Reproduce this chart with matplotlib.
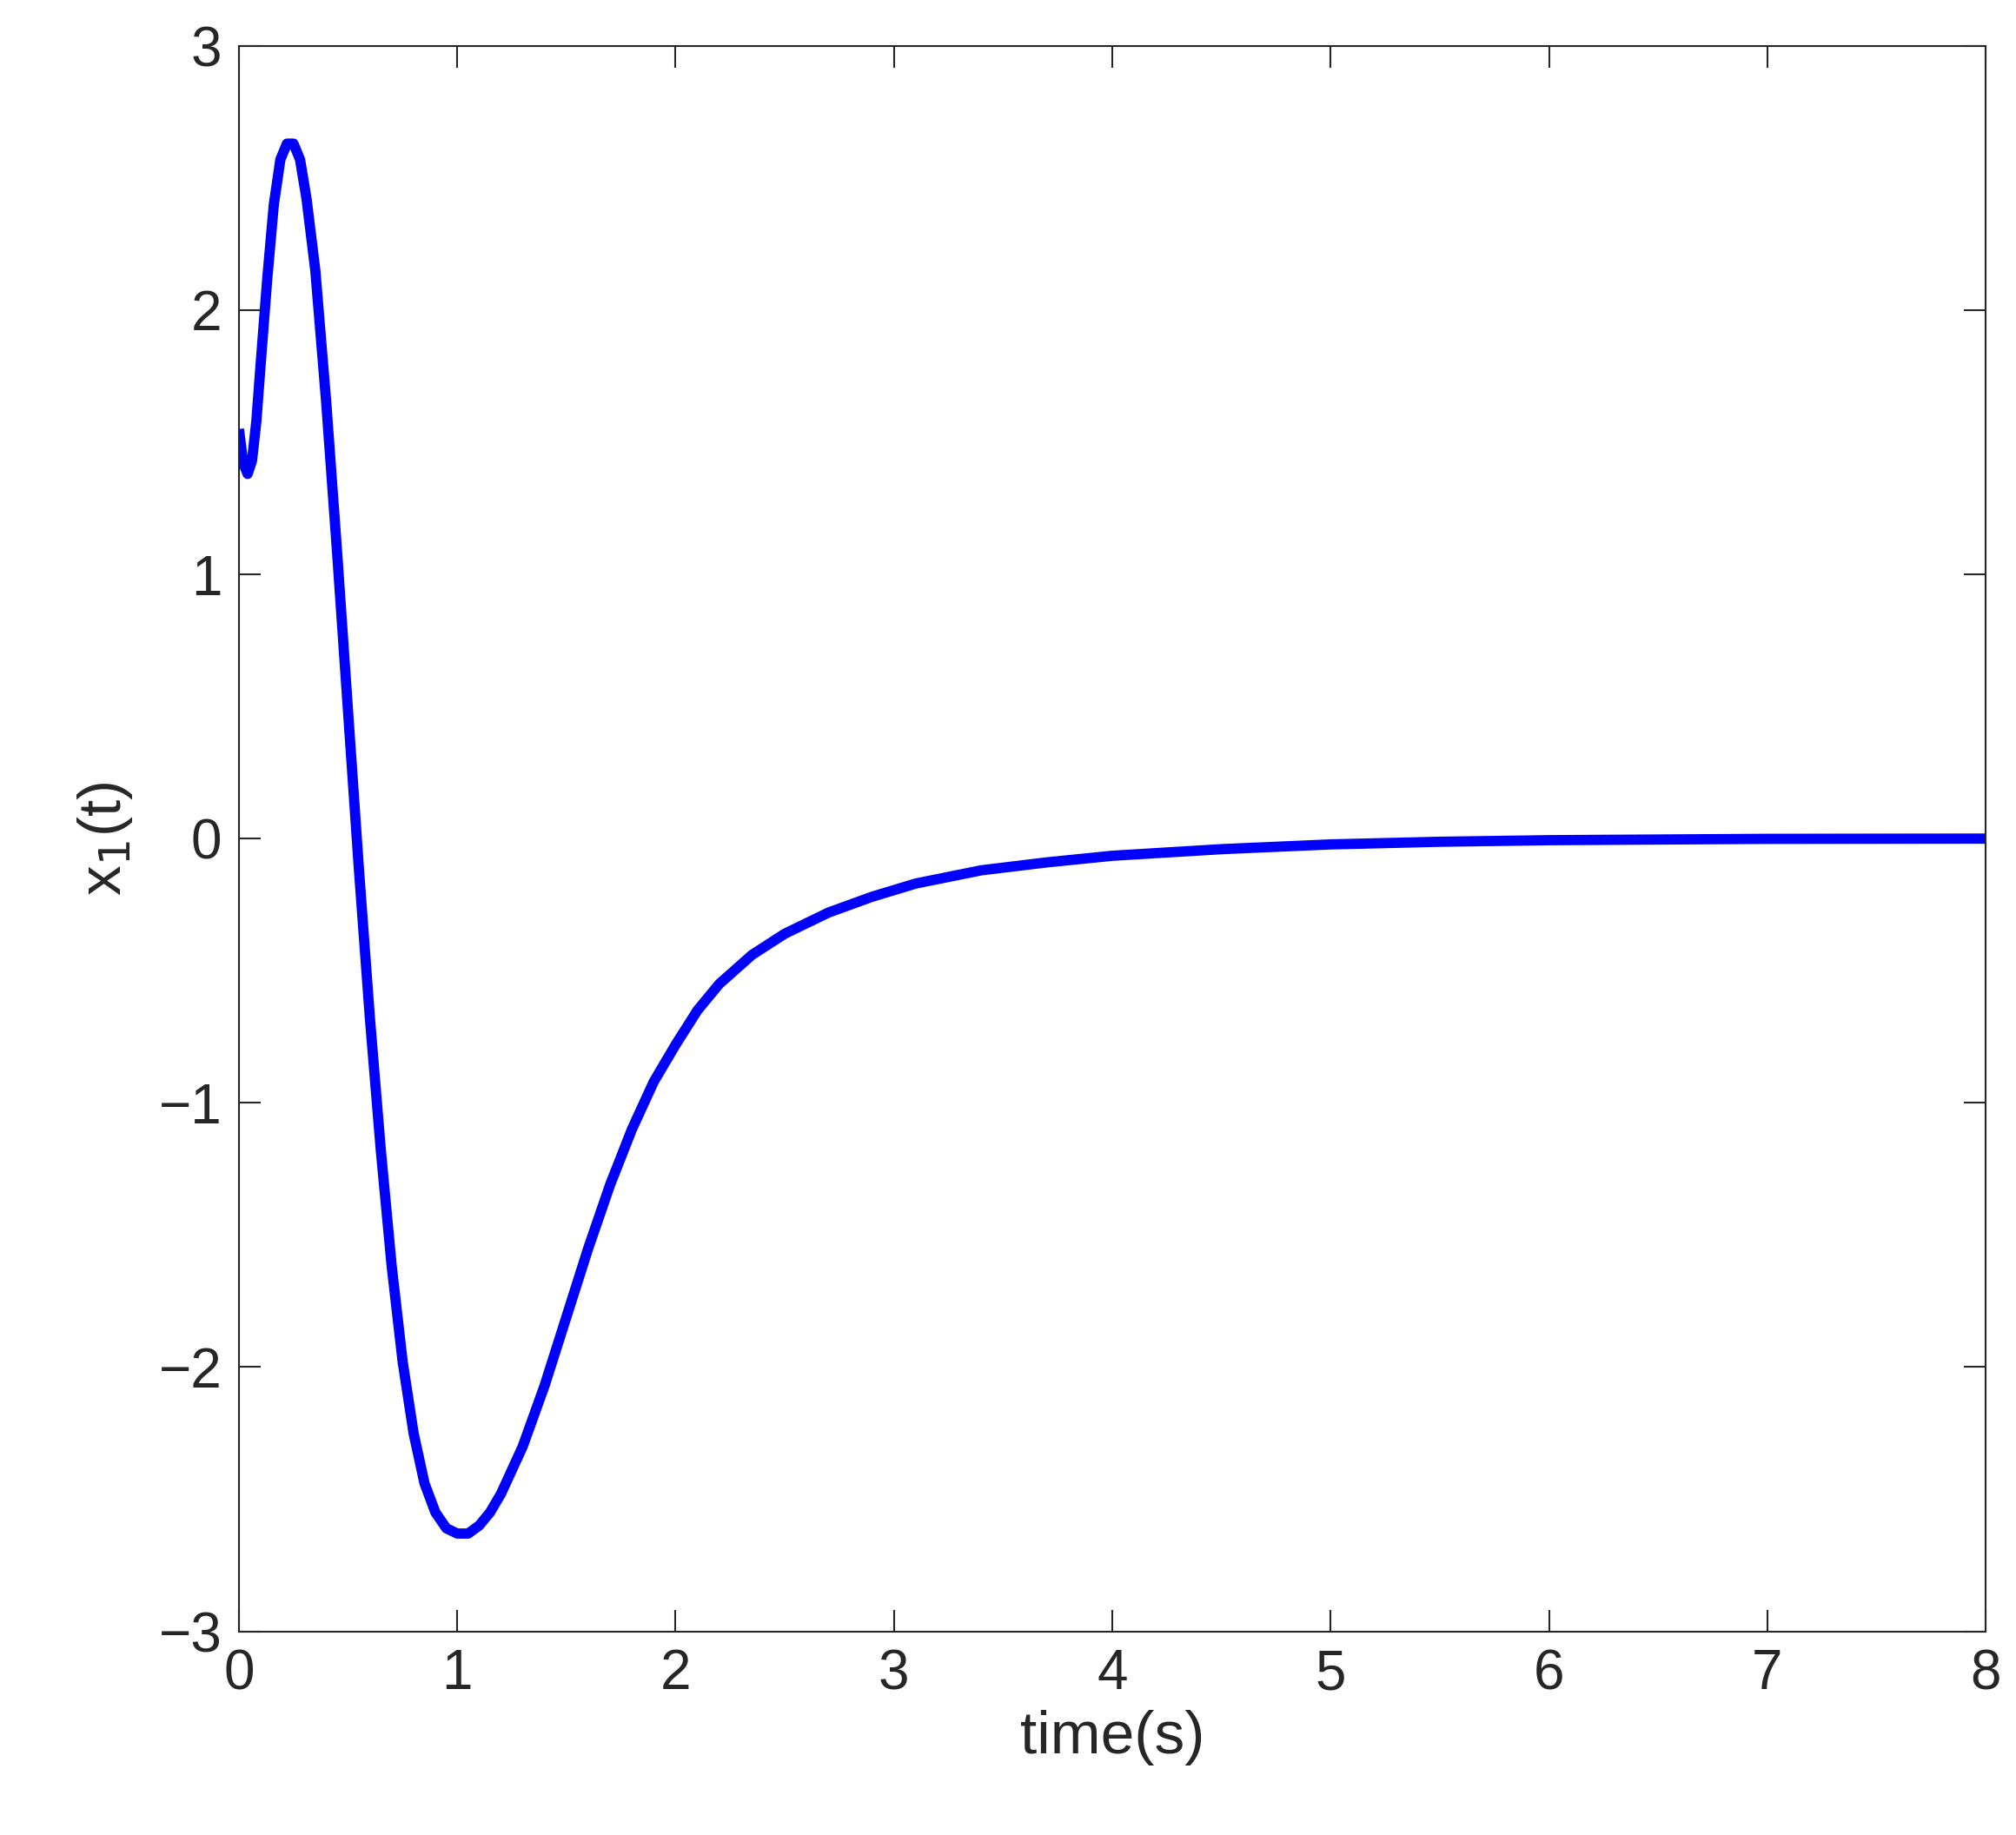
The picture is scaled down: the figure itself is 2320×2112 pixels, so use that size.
import matplotlib
matplotlib.use("Agg")
import matplotlib.pyplot as plt

# values
time_s = [0.0, 0.02, 0.04, 0.06, 0.08, 0.10, 0.13, 0.16, 0.19, 0.22, 0.25, 0.28,
          0.31, 0.35, 0.40, 0.45, 0.50, 0.55, 0.60, 0.65, 0.70, 0.75, 0.80, 0.85,
          0.90, 0.95, 1.00, 1.05, 1.10, 1.15, 1.20, 1.30, 1.40, 1.50, 1.60, 1.70,
          1.80, 1.90, 2.00, 2.10, 2.20, 2.35, 2.50, 2.70, 2.90, 3.10, 3.40, 3.70,
          4.00, 4.50, 5.00, 5.50, 6.00, 7.00, 8.00]
x1 = [1.55, 1.42, 1.38, 1.43, 1.58, 1.80, 2.12, 2.40, 2.57, 2.63, 2.63, 2.57,
      2.42, 2.15, 1.65, 1.08, 0.48, -0.12, -0.68, -1.18, -1.62, -1.98, -2.25, -2.44,
      -2.55, -2.61, -2.63, -2.63, -2.60, -2.55, -2.48, -2.30, -2.07, -1.81, -1.55, -1.31,
      -1.10, -0.92, -0.78, -0.65, -0.55, -0.44, -0.36, -0.28, -0.22, -0.17, -0.12, -0.09,
      -0.065, -0.04, -0.022, -0.012, -0.006, -0.001, 0.0]

plt.rcParams["font.family"] = ["Liberation Sans", "DejaVu Sans"]

fig = plt.figure(figsize=(23.2, 21.12), dpi=100)
ax = fig.add_axes([0.1185, 0.111, 0.8665, 0.864])
ax.plot(time_s, x1, color="#0000ff", lw=8.5, solid_capstyle="butt")
ax.set_xlim(0, 8)
ax.set_ylim(-3, 3)
ax.set_xticks(range(0, 9))
ax.set_yticks(range(-3, 4))
ax.set_yticklabels(["\u22123", "\u22122", "\u22121", "0", "1", "2", "3"])
ax.tick_params(direction="in", top=True, right=True, length=18, width=1.5,
               labelsize=46, colors="#262626", pad=14)
for s in ax.spines.values():
    s.set_linewidth(1.5)
    s.set_color("#262626")
ax.set_xlabel("time(s)", fontsize=50, color="#262626", labelpad=8)
ax.set_ylabel("x$_1$(t)", fontsize=50, color="#262626", labelpad=20)
fig.savefig("out.png", dpi=100)
